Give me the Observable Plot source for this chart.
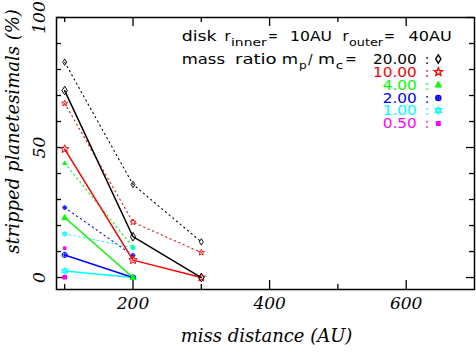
<!DOCTYPE html>
<html>
<head>
<meta charset="utf-8">
<script src="https://cdn.jsdelivr.net/npm/d3@7"></script>
<script src="https://cdn.jsdelivr.net/npm/@observablehq/plot@0.6"></script>
<style>
  html, body { margin: 0; padding: 0; background: #fff; }
  #chart { width: 476px; height: 354px; }
</style>
</head>
<body>
<div id="chart"></div>
<script>
// ---- data ----
const missDistance = [100, 200, 300];
const massRatioLabels = ["20.00", "10.00", "4.00", "2.00", "1.00", "0.50"];
const seriesColors = ["#000000", "#ff0000", "#00ff00", "#0000ff", "#00ffff", "#ff00ff"];
const solidValues = [
  [71.9, 15.7, 0],
  [49.4, 6.7, 0],
  [23.1, 0],
  [8.7, 0],
  [2.5, 0],
  [0.1]
];
const dottedValues = [
  [82.8, 35.8, 13.7],
  [67.0, 21.3, 9.6],
  [44.0, 11.7],
  [26.9, 8.5],
  [16.8, 11.5],
  [11.3]
];
const xTickLabels = [200, 400, 600];
const xMinorTicks = [100, 300, 500];
const yTickLabels = [0, 50, 100];
const yMinorTicks = [10, 20, 30, 40, 60, 70, 80, 90];

// ---- custom symbols ----
const rad = s => Math.sqrt(s / Math.PI);
const symDiamond = { draw(c, s) { const r = rad(s); c.moveTo(0, -r); c.lineTo(0.62 * r, 0); c.lineTo(0, r); c.lineTo(-0.62 * r, 0); c.closePath(); } };
const symStar = { draw(c, s) { const r = rad(s); for (let i = 0; i < 10; i++) { const a = -Math.PI / 2 + i * Math.PI / 5; const rr = i % 2 ? r * 0.45 : r; const x = rr * Math.cos(a), y = rr * Math.sin(a); if (i) c.lineTo(x, y); else c.moveTo(x, y); } c.closePath(); } };
const symTriangle = { draw(c, s) { const r = rad(s) * 0.7; c.moveTo(0, -r); c.lineTo(0.9 * r, 0.65 * r); c.lineTo(-0.9 * r, 0.65 * r); c.closePath(); } };
const symPlusCircle = { draw(c, s) { const r = rad(s) * 0.6; c.moveTo(r, 0); c.arc(0, 0, r, 0, 2 * Math.PI); c.moveTo(-r, 0); c.lineTo(r, 0); c.moveTo(0, -r); c.lineTo(0, r); } };
const symHexagram = { draw(c, s) { const r = rad(s) * 0.8; for (const off of [-Math.PI / 2, Math.PI / 2]) { for (let i = 0; i < 3; i++) { const a = off + i * 2 * Math.PI / 3; const x = r * Math.cos(a), y = r * Math.sin(a); if (i) c.lineTo(x, y); else c.moveTo(x, y); } c.closePath(); } } };
const symSquare = { draw(c, s) { const r = rad(s) * 0.42; c.rect(-r, -r, 2 * r, 2 * r); } };
const symbols = [symDiamond, symStar, symTriangle, symPlusCircle, symHexagram, symSquare];
const filled = [false, false, true, false, false, true];

const serif = "'DejaVu Serif', serif";
const sans = "'DejaVu Sans', sans-serif";

const marks = [];
// tick marks (inward)
const H = 354 - 17 - 65, W = 476 - 56 - 2;
const tk = {stroke: "black", strokeWidth: 1.3};
marks.push(Plot.tickX(xTickLabels, {x: d => d, insetTop: H - 9, ...tk}));
marks.push(Plot.tickX(xTickLabels, {x: d => d, insetBottom: H - 9, ...tk}));
marks.push(Plot.tickX(xMinorTicks, {x: d => d, insetTop: H - 5, ...tk}));
marks.push(Plot.tickX(xMinorTicks, {x: d => d, insetBottom: H - 5, ...tk}));
marks.push(Plot.tickY(yTickLabels, {y: d => d, insetRight: W - 8, ...tk}));
marks.push(Plot.tickY(yTickLabels, {y: d => d, insetLeft: W - 8, ...tk}));
marks.push(Plot.tickY(yMinorTicks, {y: d => d, insetRight: W - 5, ...tk}));
marks.push(Plot.tickY(yMinorTicks, {y: d => d, insetLeft: W - 5, ...tk}));

// series: dotted first, then solid on top
massRatioLabels.forEach((lab, i) => {
  const dRows = dottedValues[i].map((v, j) => ({x: missDistance[j], y: v}));
  marks.push(Plot.line(dRows, {x: "x", y: "y", stroke: seriesColors[i], strokeWidth: 1.1, strokeDasharray: "1.2,3.6"}));
  marks.push(Plot.dot(dRows, {x: "x", y: "y", symbol: symbols[i], r: 3.2, stroke: seriesColors[i], fill: filled[i] ? seriesColors[i] : "none", strokeWidth: 0.9}));
});
for (let i = massRatioLabels.length - 1; i >= 0; i--) {
  const sRows = solidValues[i].map((v, j) => ({x: missDistance[j], y: v}));
  marks.push(Plot.line(sRows, {x: "x", y: "y", stroke: seriesColors[i], strokeWidth: 1.5}));
  marks.push(Plot.dot(sRows, {x: "x", y: "y", symbol: symbols[i], r: 4.3, stroke: seriesColors[i], fill: filled[i] ? seriesColors[i] : "none", strokeWidth: 1}));
}

// tick labels
const lab = {fontFamily: serif, fontStyle: "italic", fontSize: 17, fill: "black"};
marks.push(Plot.text(xTickLabels, {x: d => d, text: d => String(d), frameAnchor: "bottom", dy: 19, ...lab}));
marks.push(Plot.text(yTickLabels, {y: d => d, text: d => String(d), frameAnchor: "left", dx: -12, rotate: -90, textAnchor: "middle", lineAnchor: "bottom", ...lab}));
// axis titles
const ttl = {fontFamily: serif, fontStyle: "italic", fontSize: 18, fill: "black", letterSpacing: "1px"};
marks.push(Plot.text(["miss distance (AU)"], {text: d => d, frameAnchor: "bottom", dy: 52, dx: 1, textAnchor: "middle", ...ttl}));
marks.push(Plot.text(["stripped planetesimals (%)"], {text: d => d, frameAnchor: "left", dx: -43, dy: -22, rotate: -90, textAnchor: "middle", ...ttl, letterSpacing: "0.6px"}));
marks.push(Plot.frame({stroke: "black", strokeWidth: 1.5}));

const svg = Plot.plot({
  width: 476, height: 354,
  marginLeft: 56, marginRight: 2, marginTop: 17, marginBottom: 65,
  x: {domain: [88, 700], axis: null},
  y: {domain: [-4.6, 100], axis: null},
  marks
});
document.getElementById("chart").appendChild(svg);

// ---- legend (inside the frame) ----
const g = d3.select(svg).append("g").attr("font-family", sans);
function seg(x, y, s, color, size, len, anchor) {
  const t = g.append("text").attr("x", x).attr("y", y).attr("fill", color).attr("font-size", size || 13.5)
    .attr("text-anchor", anchor || "start").text(s);
  if (len) t.attr("textLength", len).attr("lengthAdjust", "spacingAndGlyphs");
  return t;
}
// line 1
seg(181.7, 40.5, "disk", "black", 13.5, 35);
seg(224.5, 40.5, "r", "black", 13.5, 6);
seg(231, 46, "inner", "black", 10.5, 35.7);
seg(268, 40.5, "=", "black", 13.5, 10);
seg(290, 40.5, "10AU", "black", 13.5, 42);
seg(342.5, 40.5, "r", "black", 13.5, 6);
seg(349, 46, "outer", "black", 10.5, 34);
seg(384, 40.5, "=", "black", 13.5, 11);
seg(408.5, 40.5, "40AU", "black", 13.5, 43.2);
// line 2
seg(181.7, 63.5, "mass", "black", 13.5, 43.3);
seg(235, 63.5, "ratio", "black", 13.5, 41.7);
seg(281.7, 63.5, "m", "black", 13.5, 16.3);
seg(299, 69, "p", "black", 10.5, 7.7);
seg(308, 63.5, "/", "black", 13.5);
seg(318, 63.5, "m", "black", 13.5, 17);
seg(335.7, 69, "c", "black", 10.5, 7.3);
seg(345, 63.5, "=", "black", 13.5, 11.7);
const baselines = [63.5, 76.5, 89.5, 102.5, 115, 128];
const numLens = [43.7, 43.7, 34, 34, 34, 34];
massRatioLabels.forEach((lb, i) => {
  seg(416.7, baselines[i], lb, seriesColors[i], 13.5, numLens[i], "end");
  seg(427, baselines[i], ":", seriesColors[i], 13.5, null, "middle");
  const p = d3.path();
  symbols[i].draw(p, Math.PI * 4.2 * 4.2);
  g.append("path").attr("d", p.toString()).attr("transform", `translate(438.3,${baselines[i] - 4.5})`)
    .attr("stroke", seriesColors[i]).attr("stroke-width", 1.4).attr("fill", filled[i] ? seriesColors[i] : "none");
});
</script>
</body>
</html>
